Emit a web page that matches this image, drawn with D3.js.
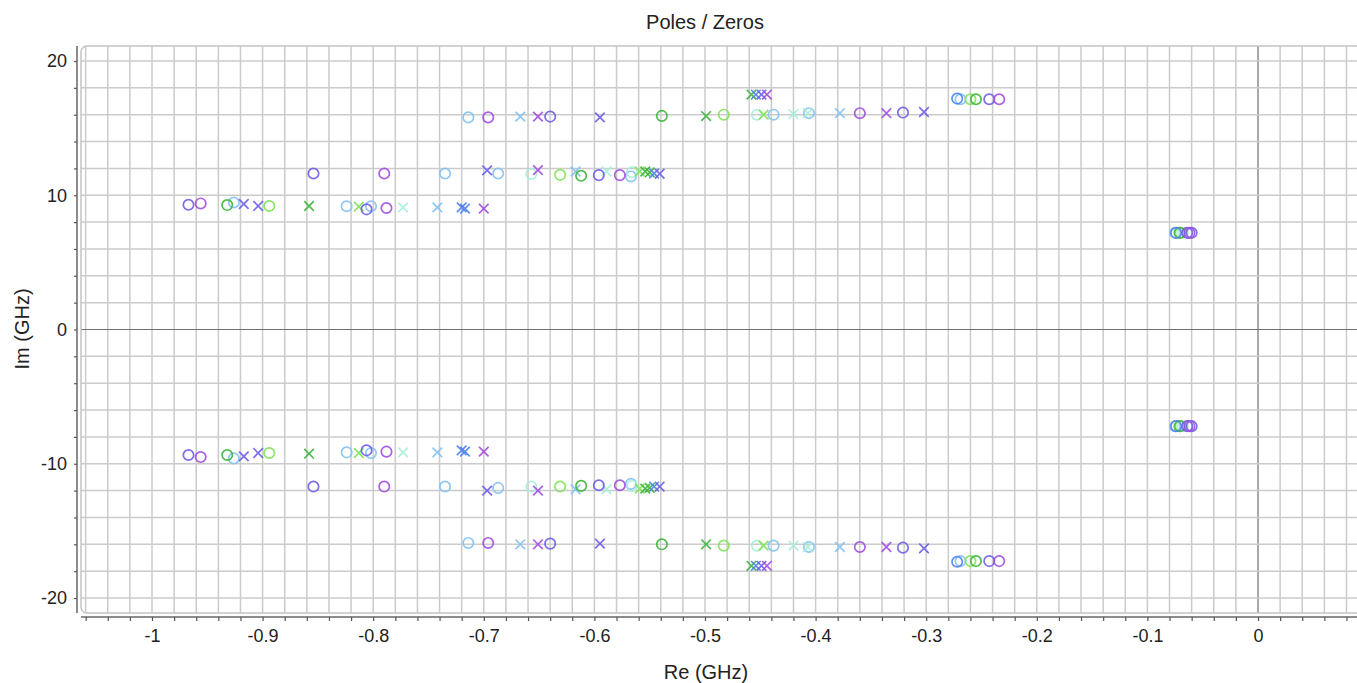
<!DOCTYPE html>
<html>
<head>
<meta charset="utf-8">
<script src="https://cdn.jsdelivr.net/npm/d3@7"></script>
<style>
  body { margin: 0; background: #fff; }
  text { font-family: "Liberation Sans", Arial, sans-serif; fill: #222; }
</style>
</head>
<body>
<div id="canvas"></div>
<script>
// zeros (o) and poles (x) per series, [Re GHz, Im GHz]
let indigoZeros = [[-0.967, 9.29], [-0.806, 8.95], [-0.854, 11.62], [-0.596, 11.5], [-0.640, 15.86], [-0.321, 16.16], [-0.243, 17.15], [-0.064, 7.2], [-0.060, 7.2],
  [-0.967, -9.35], [-0.806, -9.0], [-0.854, -11.7], [-0.596, -11.6], [-0.640, -15.95], [-0.321, -16.25], [-0.243, -17.25], [-0.064, -7.2], [-0.060, -7.2]];
let indigoPoles = [[-0.917, 9.35], [-0.904, 9.2], [-0.697, 11.85], [-0.541, 11.6], [-0.595, 15.8], [-0.302, 16.2], [-0.449, 17.5],
  [-0.917, -9.45], [-0.904, -9.2], [-0.697, -12.0], [-0.541, -11.7], [-0.595, -15.95], [-0.302, -16.3], [-0.449, -17.6]];

let purpleZeros = [[-0.956, 9.39], [-0.788, 9.05], [-0.790, 11.62], [-0.577, 11.5], [-0.696, 15.8], [-0.360, 16.11], [-0.234, 17.15], [-0.062, 7.2],
  [-0.956, -9.5], [-0.788, -9.1], [-0.790, -11.7], [-0.577, -11.6], [-0.696, -15.9], [-0.360, -16.2], [-0.234, -17.25], [-0.062, -7.2]];
let purplePoles = [[-0.700, 9.0], [-0.651, 11.87], [-0.651, 15.86], [-0.336, 16.11], [-0.444, 17.5],
  [-0.700, -9.1], [-0.651, -12.0], [-0.651, -16.0], [-0.336, -16.2], [-0.444, -17.6]];

let blueZeros = [[-0.272, 17.2], [-0.074, 7.2],
  [-0.272, -17.3], [-0.074, -7.2]];
let bluePoles = [[-0.720, 9.1], [-0.717, 9.0], [-0.546, 11.62], [-0.454, 17.5],
  [-0.720, -9.0], [-0.717, -9.1], [-0.546, -11.7], [-0.454, -17.6]];

let greenZeros = [[-0.932, 9.27], [-0.612, 11.45], [-0.539, 15.91], [-0.255, 17.15], [-0.071, 7.2],
  [-0.932, -9.35], [-0.612, -11.65], [-0.539, -16.0], [-0.255, -17.25], [-0.071, -7.2]];
let greenPoles = [[-0.858, 9.2], [-0.554, 11.77], [-0.550, 11.7], [-0.499, 15.9], [-0.458, 17.5],
  [-0.858, -9.25], [-0.554, -11.85], [-0.550, -11.8], [-0.499, -16.0], [-0.458, -17.6]];

let lightGreenZeros = [[-0.894, 9.2], [-0.631, 11.52], [-0.483, 16.0], [-0.260, 17.15], [-0.070, 7.2],
  [-0.894, -9.2], [-0.631, -11.7], [-0.483, -16.1], [-0.260, -17.25], [-0.070, -7.2]];
let lightGreenPoles = [[-0.813, 9.15], [-0.559, 11.77], [-0.447, 16.0],
  [-0.813, -9.2], [-0.559, -11.85], [-0.447, -16.1]];

let mintZeros = [[-0.657, 11.58], [-0.566, 11.72], [-0.453, 16.0], [-0.068, 7.2],
  [-0.657, -11.7], [-0.566, -11.65], [-0.453, -16.1], [-0.068, -7.2]];
let mintPoles = [[-0.773, 9.1], [-0.589, 11.77], [-0.420, 16.05], [-0.407, 16.11],
  [-0.773, -9.15], [-0.589, -11.9], [-0.420, -16.1], [-0.407, -16.2]];

let skyZeros = [[-0.926, 9.46], [-0.824, 9.18], [-0.802, 9.18], [-0.735, 11.62], [-0.687, 11.62], [-0.567, 11.4], [-0.714, 15.8], [-0.438, 16.0], [-0.406, 16.11], [-0.269, 17.15], [-0.075, 7.2],
  [-0.926, -9.6], [-0.824, -9.15], [-0.802, -9.2], [-0.735, -11.7], [-0.687, -11.8], [-0.567, -11.5], [-0.714, -15.9], [-0.438, -16.1], [-0.406, -16.2], [-0.269, -17.25], [-0.075, -7.2]];
let skyPoles = [[-0.742, 9.1], [-0.617, 11.77], [-0.667, 15.86], [-0.378, 16.11],
  [-0.742, -9.15], [-0.617, -11.9], [-0.667, -16.0], [-0.378, -16.2]];

let xTickLabels = ['-1', '-0.9', '-0.8', '-0.7', '-0.6', '-0.5', '-0.4', '-0.3', '-0.2', '-0.1', '0'];
let yTickLabels = ['-20', '-10', '0', '10', '20'];

let series = [
  { zeros: skyZeros, poles: skyPoles, color: '#84c2f2' },
  { zeros: mintZeros, poles: mintPoles, color: '#a6eedb' },
  { zeros: lightGreenZeros, poles: lightGreenPoles, color: '#7fe356' },
  { zeros: greenZeros, poles: greenPoles, color: '#3db53d' },
  { zeros: blueZeros, poles: bluePoles, color: '#4f82f0' },
  { zeros: indigoZeros, poles: indigoPoles, color: '#6d5ee8' },
  { zeros: purpleZeros, poles: purplePoles, color: '#a24ee0' }
];

let width = 1357, height = 683;
let plotLeft = 81, plotTop = 46, plotBottom = 613;

let svg = d3.select('#canvas').append('svg')
  .attr('width', width)
  .attr('height', height);

let x = d3.scaleLinear().domain([-1, 0]).range([152, 1258]);
let y = d3.scaleLinear().domain([-20, 20]).range([598, 61]);

let xMin = x.invert(plotLeft), xMax = x.invert(width);

svg.append('clipPath').attr('id', 'plot')
  .append('rect')
  .attr('x', plotLeft).attr('y', plotTop)
  .attr('width', width - plotLeft + 10).attr('height', plotBottom - plotTop);

let grid = svg.append('g');

// vertical grid every 0.02
let xGrid = d3.range(Math.ceil(xMin / 0.02), Math.floor(xMax / 0.02) + 1).map(i => i * 0.02);
grid.selectAll('line.vx')
  .data(xGrid)
  .enter()
  .append('line')
  .attr('x1', d => x(d)).attr('x2', d => x(d))
  .attr('y1', plotTop).attr('y2', plotBottom)
  .attr('stroke', d => Math.abs(d) < 1e-9 ? '#6e6e6e' : '#cbcbcb')
  .attr('stroke-width', d => Math.abs(d) < 1e-9 ? 1.2 : 1.5);

// horizontal grid every 2
let yGrid = d3.range(-10, 11).map(i => i * 2);
grid.selectAll('line.hy')
  .data(yGrid)
  .enter()
  .append('line')
  .attr('x1', plotLeft).attr('x2', width)
  .attr('y1', d => y(d)).attr('y2', d => y(d))
  .attr('stroke', d => d === 0 ? '#6e6e6e' : '#cbcbcb')
  .attr('stroke-width', d => d === 0 ? 1.2 : 1.5);

// plot frame
svg.append('rect')
  .attr('x', plotLeft).attr('y', plotTop)
  .attr('width', width - plotLeft + 20).attr('height', plotBottom - plotTop)
  .attr('rx', 6)
  .attr('fill', 'none')
  .attr('stroke', '#c4c4c4')
  .attr('stroke-width', 1.5);

// axes
let xAxis = d3.axisBottom(x)
  .tickValues(xGrid)
  .tickSize(4)
  .tickSizeOuter(0)
  .tickFormat(d => {
    let s = String(+(d).toFixed(1));
    return Math.abs(d * 10 - Math.round(d * 10)) < 1e-6 && xTickLabels.includes(s) ? s : '';
  });

let gx = svg.append('g')
  .attr('transform', 'translate(0,617)')
  .call(xAxis)
  .attr('font-size', 18)
  .attr('font-family', null);
gx.select('.domain').attr('d', `M${plotLeft},0H${width}`).attr('stroke', '#666').attr('stroke-width', 1.5);
gx.selectAll('.tick line').attr('stroke', '#555').attr('stroke-width', 1.2);
gx.selectAll('.tick text').attr('y', 9).attr('dy', '0.9em').attr('fill', '#222');

let yAxis = d3.axisLeft(y)
  .tickValues(yGrid)
  .tickSize(3)
  .tickSizeOuter(0)
  .tickFormat(d => yTickLabels.includes(String(d)) ? String(d) : '');

let gy = svg.append('g')
  .attr('transform', 'translate(77,0)')
  .call(yAxis)
  .attr('font-size', 18)
  .attr('font-family', null);
gy.select('.domain').attr('d', `M0,${plotTop}V${plotBottom}`).attr('stroke', '#666').attr('stroke-width', 1.5);
gy.selectAll('.tick line').attr('stroke', '#555').attr('stroke-width', 1.2);
gy.selectAll('.tick text').attr('x', -10).attr('fill', '#222');

// markers
let marks = svg.append('g').attr('clip-path', 'url(#plot)');

series.forEach(function(s) {
  marks.selectAll(null)
    .data(s.zeros)
    .enter()
    .append('circle')
    .attr('cx', d => x(d[0]))
    .attr('cy', d => y(d[1]))
    .attr('r', 5.2)
    .attr('fill', 'none')
    .attr('stroke', s.color)
    .attr('stroke-width', 1.7)
    .attr('opacity', 0.9);

  marks.selectAll(null)
    .data(s.poles)
    .enter()
    .append('path')
    .attr('d', d => {
      let cx = x(d[0]), cy = y(d[1]), h = 4.8;
      return `M${cx - h},${cy - h}L${cx + h},${cy + h}M${cx - h},${cy + h}L${cx + h},${cy - h}`;
    })
    .attr('fill', 'none')
    .attr('stroke', s.color)
    .attr('stroke-width', 1.7)
    .attr('opacity', 0.9);
});

// titles
svg.append('text')
  .attr('x', 705).attr('y', 29)
  .attr('text-anchor', 'middle')
  .style('font-size', '20px')
  .text('Poles / Zeros');

svg.append('text')
  .attr('x', 706).attr('y', 679)
  .attr('text-anchor', 'middle')
  .style('font-size', '20px')
  .text('Re (GHz)');

svg.append('text')
  .attr('transform', 'translate(29,329) rotate(-90)')
  .attr('text-anchor', 'middle')
  .style('font-size', '20px')
  .text('Im (GHz)');
</script>
</body>
</html>
